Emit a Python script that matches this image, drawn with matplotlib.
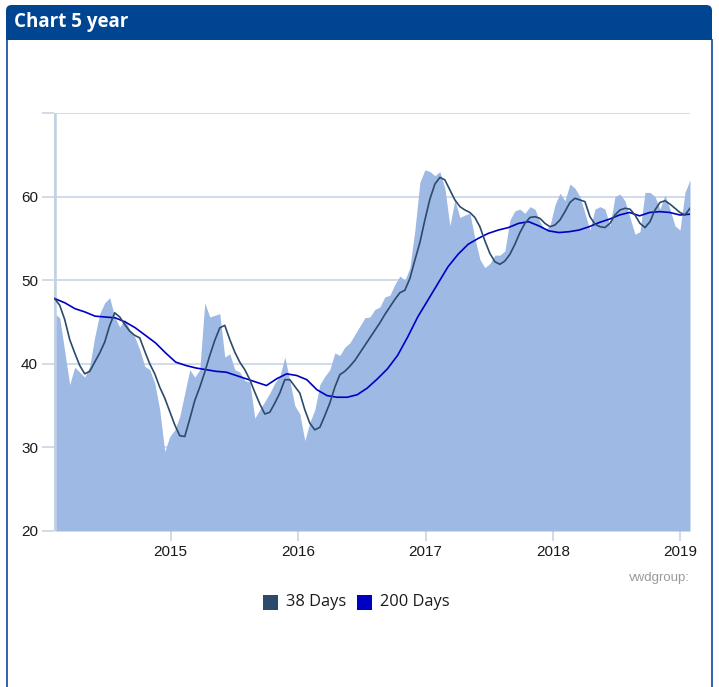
import matplotlib
matplotlib.use('Agg')
import matplotlib.pyplot as plt
from matplotlib.patches import Rectangle, FancyBboxPatch
from matplotlib.lines import Line2D
import pandas as pd

# ---------------- data ----------------
price = [
    46.0, 45.5, 41.5, 37.5, 39.6, 39.0, 38.4, 39.7, 43.2, 46.0,
    47.3, 47.9, 45.6, 44.4, 45.3, 44.1, 43.2, 41.7, 39.7, 39.3,
    37.7, 34.5, 29.5, 31.3, 32.1, 33.7, 36.5, 39.3, 38.4, 39.3,
    47.3, 45.6, 45.8, 46.0, 40.8, 41.2, 39.3, 39.0, 38.0, 37.8,
    33.5, 34.5, 35.5, 36.5, 37.7, 38.5, 40.8, 38.0, 35.0, 34.0,
    30.8, 33.0, 34.5, 37.5, 38.5, 39.3, 41.3, 41.0, 42.0, 42.5,
    43.5, 44.5, 45.5, 45.6, 46.5, 46.8, 48.0, 48.2, 49.5, 50.5,
    50.0, 51.5, 56.0, 61.7, 63.2, 63.0, 62.5, 63.0, 61.0, 56.5,
    59.6, 57.5, 57.8, 58.0, 55.0, 52.5, 51.5, 52.0, 53.0, 53.0,
    53.5, 57.2, 58.3, 58.5, 58.0, 58.8, 58.5, 57.0, 56.0, 56.5,
    59.0, 60.4, 59.5, 61.5, 61.0, 60.0, 58.0, 56.0, 58.5, 58.8,
    58.5, 56.5, 60.0, 60.3, 59.5, 57.5, 55.5, 55.8, 60.5, 60.5,
    60.0, 58.5, 60.2, 58.5, 56.5, 56.0, 60.5, 62.0,
]

ma38 = [
    47.8, 47.0, 45.3, 42.9, 41.3, 39.8, 38.8, 39.1, 40.2, 41.3,
    42.6, 44.6, 46.1, 45.6, 44.7, 43.9, 43.4, 43.1, 41.5, 40.0,
    38.8, 37.2, 35.9, 34.3, 32.7, 31.4, 31.3, 33.4, 35.6, 37.2,
    39.0, 41.0, 42.8, 44.3, 44.6, 42.9, 41.4, 40.2, 39.3, 38.1,
    36.6, 35.2, 34.0, 34.2, 35.3, 36.5, 38.1, 38.1, 37.3, 36.5,
    34.5, 32.9, 32.1, 32.4, 33.8, 35.3, 37.2, 38.7, 39.1, 39.7,
    40.4, 41.3, 42.2, 43.1, 44.0, 44.9, 45.9, 46.8, 47.7, 48.5,
    48.8, 50.2, 52.4, 54.5, 57.2, 59.7, 61.5, 62.3, 62.0, 60.8,
    59.6, 58.8, 58.4, 58.1, 57.5, 56.4, 54.7, 53.2, 52.2, 51.9,
    52.3, 53.1, 54.3, 55.7, 56.8, 57.5, 57.6, 57.4, 56.8, 56.4,
    56.6, 57.2, 58.2, 59.3, 59.8, 59.6, 59.4, 57.6, 56.7, 56.4,
    56.3, 56.8, 57.8, 58.4, 58.6, 58.5, 57.8, 56.8, 56.3, 57.0,
    58.4, 59.3, 59.5, 59.1, 58.6, 58.1, 57.8, 58.6,
]

ma200 = [
    47.8, 47.3, 46.6, 46.2, 45.7, 45.6, 45.5, 45.0, 44.3, 43.4,
    42.5, 41.3, 40.2, 39.8, 39.5, 39.3, 39.1, 39.0, 38.6, 38.2,
    37.8, 37.4, 38.2, 38.8, 38.6, 38.1, 36.9, 36.2, 36.0, 36.0,
    36.3, 37.1, 38.2, 39.4, 41.0, 43.2, 45.6, 47.6, 49.6, 51.6,
    53.1, 54.3, 55.0, 55.6, 56.0, 56.3, 56.8, 57.0, 56.5, 55.9,
    55.7, 55.8, 56.0, 56.4, 56.9, 57.3, 57.8, 58.1, 57.7, 58.1,
    58.2, 58.1, 57.8, 57.9,
]

start_date = '2014-02-03'
end_date = '2019-01-29'
year_ticks = ['2015-01-01', '2016-01-01', '2017-01-01', '2018-01-01', '2019-01-01']
year_labels = ['2015', '2016', '2017', '2018', '2019']
y_ticks = [20, 30, 40, 50, 60, 70]
y_labels = ['20', '30', '40', '50', '60', '']
legend_labels = ['38 Days', '200 Days']
title = 'Chart 5 year'
source = 'vwdgroup:'

# ---------------- styling ----------------
W, H = 719, 687
FILL = '#9db9e4'
C38 = '#2c4a6b'
C200 = '#0000c4'
GRID = '#c8d5e6'
HEADER = '#004592'

price_dates = pd.date_range(start_date, end_date, periods=len(price))
ma38_dates = pd.date_range(start_date, end_date, periods=len(ma38))
ma200_dates = pd.date_range(start_date, end_date, periods=len(ma200))

fig = plt.figure(figsize=(W / 100, H / 100), dpi=100)
fig.patch.set_facecolor('white')

def fx(px):
    return px / W

def fy(py):
    return 1 - py / H

# header band with rounded top
hdr = FancyBboxPatch((fx(6), fy(40)), fx(712) - fx(6), fy(5) - fy(40),
                     boxstyle='round,pad=0,rounding_size=0.008',
                     transform=fig.transFigure, facecolor=HEADER,
                     edgecolor='none', zorder=1)
fig.patches.append(hdr)
fig.patches.append(Rectangle((fx(6), fy(40)), fx(712) - fx(6), fy(25) - fy(40),
                             transform=fig.transFigure, facecolor=HEADER,
                             edgecolor='none', zorder=1))
# panel side borders
for xb in (6.5, 711.5):
    fig.lines.append(Line2D([fx(xb), fx(xb)], [fy(40), 0], transform=fig.transFigure,
                            color='#1f55a8', lw=1.3, zorder=1))

fig.text(fx(14), fy(22), title, color='white', fontsize=13.5, fontweight='bold',
         family='Open Sans', va='center', ha='left')

# plot axes
ax = fig.add_axes([fx(54), fy(531), fx(690) - fx(54), fy(113) - fy(531)])
ax.set_facecolor('white')
ax.fill_between(price_dates, 20, price, color=FILL, lw=0, zorder=2)
ax.plot(ma200_dates, ma200, color=C200, lw=1.2, zorder=4)
ax.plot(ma38_dates, ma38, color=C38, lw=1.2, zorder=5)

x0 = pd.Timestamp('2014-02-01')
x1 = pd.Timestamp(end_date)
ax.set_xlim(x0, x1)
ax.set_ylim(20, 70)

ax.set_yticks(y_ticks)
ax.set_yticklabels(y_labels)
ax.yaxis.grid(True, color=GRID, lw=1.2, zorder=1)
ax.set_axisbelow(True)
ax.axvline(x0, color='#c2d2e3', lw=3.3, zorder=3)

ax.set_xticks(pd.to_datetime(year_ticks))
ax.set_xticklabels(year_labels)

for s in ax.spines.values():
    s.set_visible(False)

ax.tick_params(axis='y', direction='out', length=9, width=1.2, color=GRID, pad=2.5,
               labelsize=11, labelcolor='#1a1a1a')
ax.tick_params(axis='x', direction='out', length=7, width=1.2, color=GRID, pad=3,
               labelsize=11, labelcolor='#1a1a1a')
for lab in ax.get_xticklabels() + ax.get_yticklabels():
    lab.set_family('Liberation Sans')

fig.text(fx(690), fy(578), source, color='#9a9a9a', fontsize=9.5,
         family='Liberation Sans', ha='right', va='center')

# legend
leg_y = 602
sq = 15
items = [(263, C38, legend_labels[0]), (357, C200, legend_labels[1])]
for lx, col, lab in items:
    fig.patches.append(Rectangle((fx(lx), fy(leg_y + sq / 2)), fx(sq), fy(0) - fy(sq),
                                 transform=fig.transFigure, facecolor=col,
                                 edgecolor='none'))
    fig.text(fx(lx + sq + 8), fy(leg_y), lab, color='#1a1a1a', fontsize=11.8,
             family='Open Sans', ha='left', va='center')

fig.savefig('out.png', dpi=100)
